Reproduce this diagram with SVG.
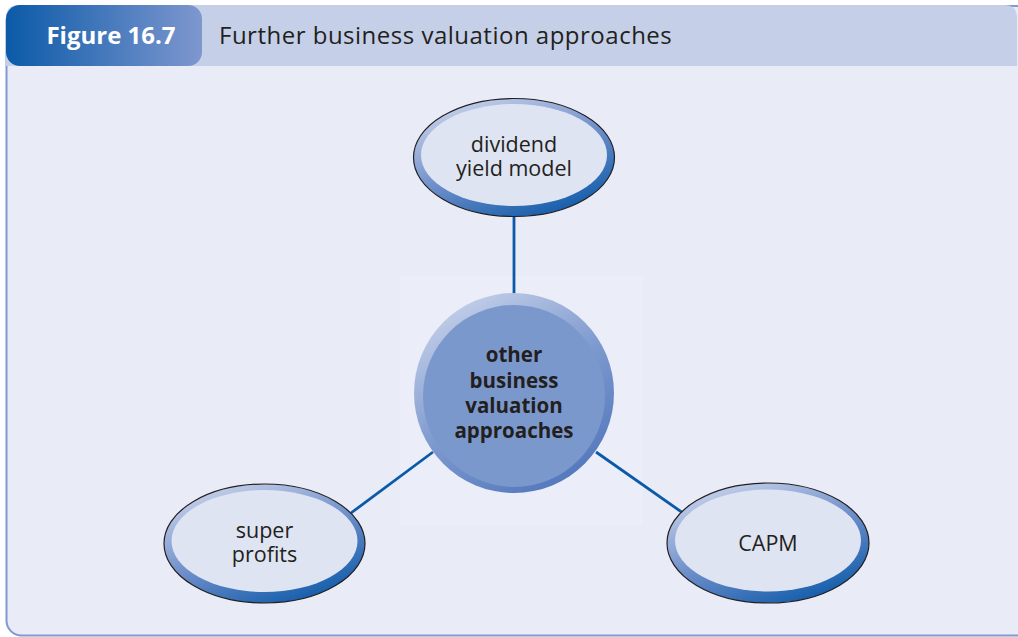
<svg xmlns="http://www.w3.org/2000/svg" width="1018" height="637" viewBox="0 0 1018 637">
<style>
.lbl{font-family:"Open Sans","Liberation Sans",sans-serif;font-size:21.5px;fill:#231f20;text-anchor:middle}
.bold{font-weight:bold;font-size:20.5px}
.conn{stroke:#0a5aa8;stroke-width:2.8;fill:none}
.outer{stroke:#231f20;stroke-width:1.2}
.inner{fill:#dfe4f3}
</style>
<defs>
<linearGradient id="tabG" x1="0" y1="0" x2="1" y2="0">
<stop offset="0" stop-color="#0b5aa8"/>
<stop offset="1" stop-color="#7e97cf"/>
</linearGradient>
<linearGradient id="ringG" x1="0.2" y1="0" x2="0.8" y2="1">
<stop offset="0" stop-color="#cad4ec"/>
<stop offset="0.5" stop-color="#6f8fca"/>
<stop offset="1" stop-color="#0a58a8"/>
</linearGradient>
<linearGradient id="hubG" x1="0.2" y1="0" x2="0.8" y2="1">
<stop offset="0" stop-color="#c8d2ea"/>
<stop offset="0.5" stop-color="#7e9acf"/>
<stop offset="1" stop-color="#4f74bb"/>
</linearGradient>
</defs>
<rect width="1018" height="637" fill="#ffffff"/>
<g id="panel">
<rect x="6.5" y="6" width="1040" height="629.5" rx="15" fill="#e9ecf7" stroke="#7f9ad0" stroke-width="2"/>
<path d="M6,66 V18 Q6,5 19,5 H1004 Q1017,5 1017,18 V66 Z" fill="#c5d0e8"/>
<rect x="6" y="5" width="196" height="61" rx="14" fill="url(#tabG)"/>
<text x="111" y="44" style="font-family:'Open Sans','Liberation Sans',sans-serif;font-size:24px;font-weight:bold;fill:#ffffff;text-anchor:middle">Figure 16.7</text>
<text x="219" y="44" style="font-family:'Open Sans','Liberation Sans',sans-serif;font-size:24px;letter-spacing:0.5px;fill:#231f20">Further business valuation approaches</text>
<rect x="401" y="277" width="241" height="247" fill="#ebeef8" stroke="#eef0f9" stroke-width="1"/>
</g>
<g id="connectors">
<line class="conn" x1="514" y1="216" x2="514" y2="294"/>
<line class="conn" x1="433" y1="452" x2="351" y2="513"/>
<line class="conn" x1="596" y1="452" x2="683" y2="513"/>
</g>
<g id="node-dividend">
<ellipse class="outer" cx="514" cy="157.5" rx="100.5" ry="59" fill="url(#ringG)"/>
<ellipse class="inner" cx="514" cy="155" rx="93" ry="51"/>
<text class="lbl" x="514" y="152">dividend</text>
<text class="lbl" x="514" y="176">yield model</text>
</g>
<g id="node-center">
<circle cx="514" cy="393" r="100" fill="url(#hubG)"/>
<circle cx="514" cy="396" r="91" fill="#7b98cc"/>
<text class="lbl bold" x="514" y="362">other</text>
<text class="lbl bold" x="514" y="388">business</text>
<text class="lbl bold" x="514" y="413">valuation</text>
<text class="lbl bold" x="514" y="438">approaches</text>
</g>
<g id="node-super">
<ellipse class="outer" cx="264.5" cy="543.5" rx="100.5" ry="59.5" fill="url(#ringG)"/>
<ellipse class="inner" cx="264.5" cy="541" rx="93" ry="51"/>
<text class="lbl" x="264.5" y="538">super</text>
<text class="lbl" x="264.5" y="562">profits</text>
</g>
<g id="node-capm">
<ellipse class="outer" cx="768" cy="543" rx="101" ry="60" fill="url(#ringG)"/>
<ellipse class="inner" cx="768" cy="540.5" rx="93" ry="51"/>
<text class="lbl" x="768" y="551">CAPM</text>
</g>
</svg>
